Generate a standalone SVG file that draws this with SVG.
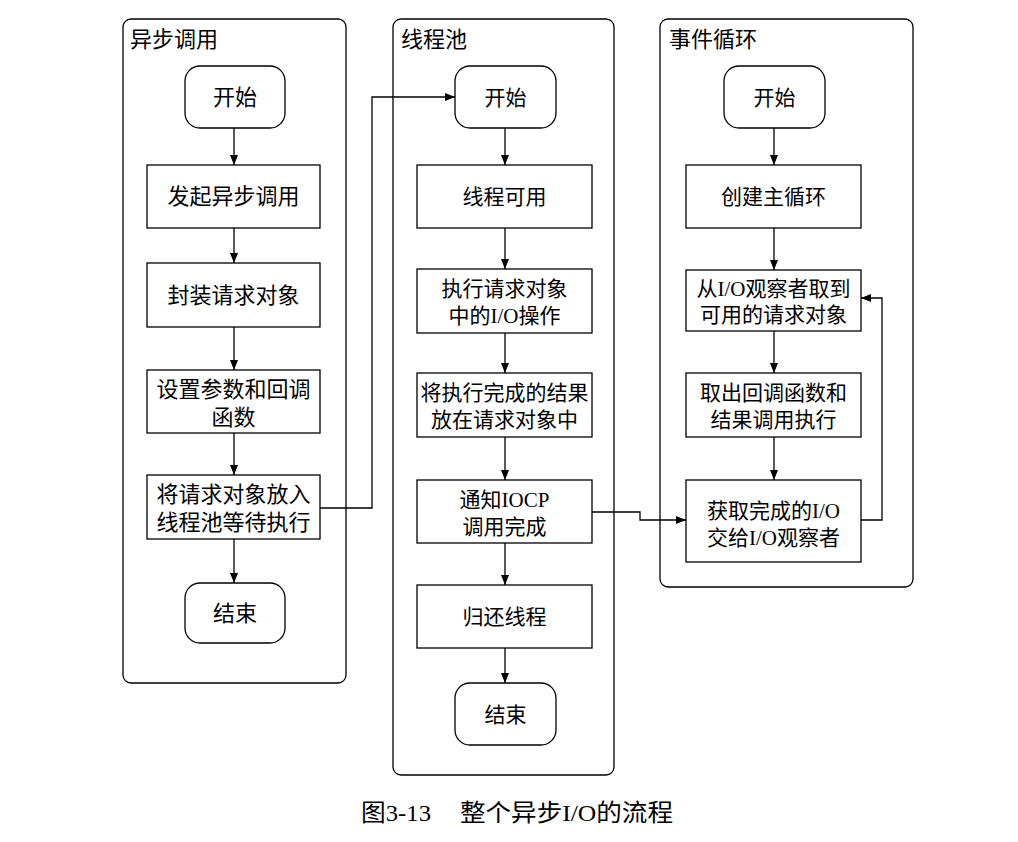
<svg xmlns="http://www.w3.org/2000/svg" width="1018" height="842" viewBox="0 0 1018 842">
<style>
.lane{fill:none;stroke:#000;stroke-width:1.3}
.term{fill:#fff;stroke:#000;stroke-width:1.3}
.box{fill:#fff;stroke:#000;stroke-width:1.3}
.t{font-family:"Liberation Serif","Noto Sans CJK SC",serif;font-size:21px;fill:#000;text-anchor:middle}
.t22{font-size:22px}
.title{font-family:"Liberation Serif","Noto Sans CJK SC",serif;font-size:22px;fill:#000}
.cap{font-family:"Liberation Serif","Noto Sans CJK SC",serif;font-size:24px;fill:#000}
.c{fill:none;stroke:#000;stroke-width:1.3}
</style>
<defs>
<marker id="ah" viewBox="0 0 10 8" refX="10" refY="4" markerWidth="10" markerHeight="8" markerUnits="userSpaceOnUse" orient="auto">
<path d="M0,0 L10,4 L0,8 Z" fill="#000"/>
</marker>
</defs>
<rect width="1018" height="842" fill="#fff"/>

<g id="lane1">
<rect class="lane" x="123" y="19" width="223" height="664" rx="8"/>
<text class="title" x="130" y="47">异步调用</text>
</g>
<g id="lane2">
<rect class="lane" x="393" y="19" width="221" height="756" rx="8"/>
<text class="title" x="401" y="47">线程池</text>
</g>
<g id="lane3">
<rect class="lane" x="660" y="19" width="253" height="568" rx="8"/>
<text class="title" x="669" y="47">事件循环</text>
</g>

<g id="connectors">
<line class="c" x1="234" y1="128" x2="234" y2="165" marker-end="url(#ah)"/>
<line class="c" x1="234" y1="228" x2="234" y2="263" marker-end="url(#ah)"/>
<line class="c" x1="234" y1="327" x2="234" y2="370" marker-end="url(#ah)"/>
<line class="c" x1="234" y1="433" x2="234" y2="475" marker-end="url(#ah)"/>
<line class="c" x1="234" y1="539" x2="234" y2="583" marker-end="url(#ah)"/>
<polyline class="c" points="320,508 372,508 372,97 455,97" marker-end="url(#ah)"/>
<line class="c" x1="505" y1="128" x2="505" y2="165" marker-end="url(#ah)"/>
<line class="c" x1="505" y1="228" x2="505" y2="269" marker-end="url(#ah)"/>
<line class="c" x1="505" y1="333" x2="505" y2="373" marker-end="url(#ah)"/>
<line class="c" x1="505" y1="437" x2="505" y2="480" marker-end="url(#ah)"/>
<line class="c" x1="505" y1="543" x2="505" y2="585" marker-end="url(#ah)"/>
<line class="c" x1="505" y1="648" x2="505" y2="683" marker-end="url(#ah)"/>
<polyline class="c" points="592,512 640,512 640,520 686,520" marker-end="url(#ah)"/>
<line class="c" x1="774" y1="128" x2="774" y2="165" marker-end="url(#ah)"/>
<line class="c" x1="774" y1="228" x2="774" y2="270" marker-end="url(#ah)"/>
<line class="c" x1="774" y1="331" x2="774" y2="373" marker-end="url(#ah)"/>
<line class="c" x1="774" y1="437" x2="774" y2="480" marker-end="url(#ah)"/>
<polyline class="c" points="861,520 882,520 882,298 861,298" marker-end="url(#ah)"/>
</g>

<g id="l1-start"><rect class="term" x="185" y="66" width="100" height="62" rx="15"/><text class="t t22" x="235" y="105">开始</text></g>
<g id="l1-n1"><rect class="box" x="147" y="165" width="173" height="63"/><text class="t t22" x="233.5" y="204">发起异步调用</text></g>
<g id="l1-n2"><rect class="box" x="147" y="263" width="173" height="64"/><text class="t t22" x="233.5" y="303">封装请求对象</text></g>
<g id="l1-n3"><rect class="box" x="147" y="370" width="173" height="63"/><text class="t t22" x="233.5" y="397">设置参数和回调</text><text class="t t22" x="233.5" y="425">函数</text></g>
<g id="l1-n4"><rect class="box" x="147" y="475" width="173" height="64"/><text class="t t22" x="233.5" y="502">将请求对象放入</text><text class="t t22" x="233.5" y="530">线程池等待执行</text></g>
<g id="l1-end"><rect class="term" x="185" y="583" width="100" height="60" rx="15"/><text class="t t22" x="235" y="621">结束</text></g>

<g id="l2-start"><rect class="term" x="455" y="66" width="101" height="62" rx="15"/><text class="t" x="505.5" y="105">开始</text></g>
<g id="l2-n1"><rect class="box" x="417" y="165" width="175" height="63"/><text class="t" x="504.5" y="204">线程可用</text></g>
<g id="l2-n2"><rect class="box" x="417" y="269" width="175" height="64"/><text class="t" x="504.5" y="296">执行请求对象</text><text class="t" x="504.5" y="323">中的I/O操作</text></g>
<g id="l2-n3"><rect class="box" x="417" y="373" width="175" height="64"/><text class="t" x="504.5" y="400">将执行完成的结果</text><text class="t" x="504.5" y="427">放在请求对象中</text></g>
<g id="l2-n4"><rect class="box" x="417" y="480" width="175" height="63"/><text class="t" x="504.5" y="507">通知IOCP</text><text class="t" x="504.5" y="534">调用完成</text></g>
<g id="l2-n5"><rect class="box" x="417" y="585" width="175" height="63"/><text class="t" x="504.5" y="624">归还线程</text></g>
<g id="l2-end"><rect class="term" x="455" y="683" width="101" height="62" rx="15"/><text class="t" x="505.5" y="722">结束</text></g>

<g id="l3-start"><rect class="term" x="724" y="66" width="101" height="62" rx="15"/><text class="t" x="774.5" y="105">开始</text></g>
<g id="l3-n1"><rect class="box" x="686" y="165" width="175" height="63"/><text class="t" x="773.5" y="204">创建主循环</text></g>
<g id="l3-n2"><rect class="box" x="686" y="270" width="175" height="61"/><text class="t" x="773.5" y="296">从I/O观察者取到</text><text class="t" x="773.5" y="322">可用的请求对象</text></g>
<g id="l3-n3"><rect class="box" x="686" y="373" width="175" height="64"/><text class="t" x="773.5" y="400">取出回调函数和</text><text class="t" x="773.5" y="427">结果调用执行</text></g>
<g id="l3-n4"><rect class="box" x="686" y="480" width="175" height="82"/><text class="t" x="773.5" y="518">获取完成的I/O</text><text class="t" x="773.5" y="545">交给I/O观察者</text></g>

<g id="caption">
<text class="cap" x="361" y="821" textLength="70" lengthAdjust="spacingAndGlyphs">图3-13</text>
<text class="cap" x="460" y="821" textLength="213" lengthAdjust="spacingAndGlyphs">整个异步I/O的流程</text>
</g>
</svg>
